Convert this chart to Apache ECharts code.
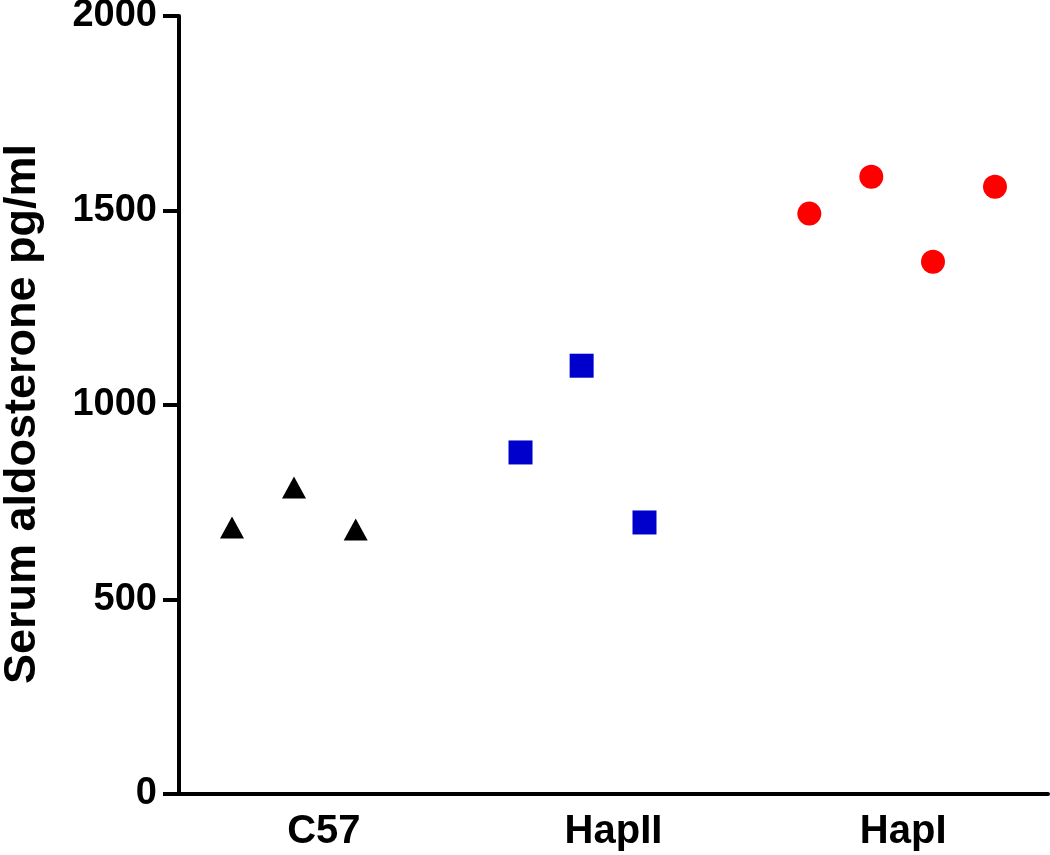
<!DOCTYPE html>
<html>
<head>
<meta charset="utf-8">
<script src="https://cdn.jsdelivr.net/npm/echarts@6/dist/echarts.min.js"></script>
<style>html,body{margin:0;padding:0;background:#fff}#c{width:1050px;height:855px}</style>
</head>
<body>
<div id="c"></div>
<script>
const categories = ["C57", "HapII", "HapI"];
const yTicks = [0, 500, 1000, 1500, 2000];
// x positions within the 0..3 category span (category centers at 0.5, 1.5, 2.5)
const c57X = [0.183, 0.397, 0.610];
const c57Y = [685, 788, 680];
const hap2X = [1.179, 1.390, 1.607];
const hap2Y = [878, 1101, 698];
const hap1X = [2.176, 2.390, 2.603, 2.817];
const hap1Y = [1492, 1587, 1368, 1561];

const pair = (xs, ys) => xs.map((x, i) => [x, ys[i]]);
const FONT = '"Liberation Sans", Arial, sans-serif';

const chart = echarts.init(document.getElementById('c'), null, {renderer: 'canvas'});
chart.setOption({
  animation: false,
  backgroundColor: '#fff',
  grid: {left: 179, right: 2, top: 16, bottom: 61, containLabel: false, outerBoundsMode: 'none'},
  xAxis: [
    {
      type: 'category', data: categories, boundaryGap: true,
      axisLine: {lineStyle: {color: '#000', width: 4}},
      axisTick: {alignWithLabel: true, length: 16, lineStyle: {color: '#000', width: 4}},
      axisLabel: {color: '#000', fontFamily: FONT, fontWeight: 'bold', fontSize: 40, margin: 18},
      splitLine: {show: false}
    },
    {
      type: 'value', min: 0, max: 3, show: false, splitLine: {show: false}
    }
  ],
  yAxis: {
    type: 'value', min: yTicks[0], max: yTicks[yTicks.length - 1], interval: 500,
    name: 'Serum aldosterone pg/ml', nameLocation: 'middle', nameRotate: 90, nameGap: 134,
    nameTextStyle: {color: '#000', fontFamily: FONT, fontWeight: 'bold', fontSize: 45, padding: [0, 18, 0, 0]},
    axisLine: {show: true, lineStyle: {color: '#000', width: 4}},
    axisTick: {show: true, length: 16, lineStyle: {color: '#000', width: 4}},
    axisLabel: {color: '#000', fontFamily: FONT, fontWeight: 'bold', fontSize: 38, margin: 22,
      formatter: v => String(v)},
    splitLine: {show: false}
  },
  series: [
    {type: 'scatter', xAxisIndex: 1, data: pair(c57X, c57Y), symbol: 'triangle', symbolSize: [24, 22], itemStyle: {color: '#000', opacity: 1}},
    {type: 'scatter', xAxisIndex: 1, data: pair(hap2X, hap2Y), symbol: 'rect', symbolSize: 24, itemStyle: {color: '#0000cc', opacity: 1}},
    {type: 'scatter', xAxisIndex: 1, data: pair(hap1X, hap1Y), symbol: 'circle', symbolSize: 24, itemStyle: {color: '#ff0000', opacity: 1}}
  ]
});
</script>
</body>
</html>
